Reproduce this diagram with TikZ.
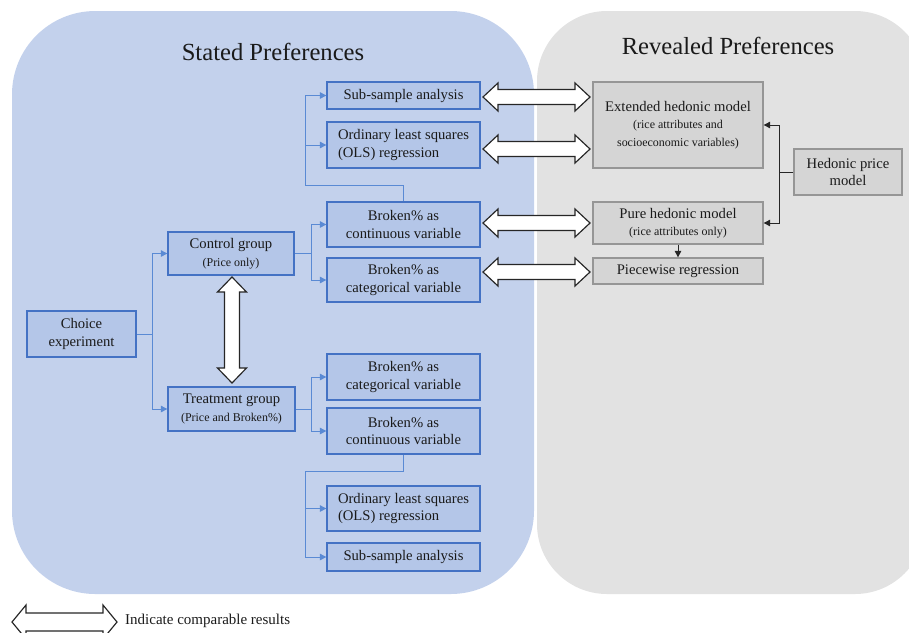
\documentclass[tikz,border=0pt]{standalone}
\usepackage{fontspec}
\setmainfont{Liberation Serif}
\usetikzlibrary{arrows.meta,calc}
\definecolor{panelblue}{HTML}{C3D1EC}
\definecolor{boxblue}{HTML}{B4C6E8}
\definecolor{edgeblue}{HTML}{4472C4}
\definecolor{lineblue}{HTML}{5A8AD4}
\definecolor{panelgray}{HTML}{E2E2E2}
\definecolor{boxgray}{HTML}{D5D5D5}
\definecolor{edgegray}{HTML}{969696}
\definecolor{txt}{HTML}{1A1A1A}
\tikzset{
 base/.style={inner sep=0pt, align=center, text=txt, font=\fontsize{12.5}{15}\selectfont},
 bbox/.style={base, draw=edgeblue, fill=boxblue, line width=1.1pt},
 gbox/.style={base, draw=edgegray, fill=boxgray, line width=1.1pt},
 bl/.style={draw=lineblue, line width=0.8pt},
 bla/.style={bl, -{Triangle[length=5.5pt,width=5.5pt]}},
 gl/.style={draw=black!85, line width=0.8pt},
 gla/.style={gl, -{Triangle[length=5.5pt,width=5.5pt]}},
 dbl/.style={draw=black!85, fill=white, line width=1pt, line join=miter},
 title/.style={text=txt, font=\fontsize{21}{24}\selectfont},
}
\newcommand\sm[1]{{\fontsize{10.2}{12}\selectfont #1}}
\newcommand\hdbl[6]{\draw[dbl] (#1,#3) -- (#1+#6,#3-#4) -- (#1+#6,#3-#5) -- (#2-#6,#3-#5) -- (#2-#6,#3-#4) -- (#2,#3) -- (#2-#6,#3+#4) -- (#2-#6,#3+#5) -- (#1+#6,#3+#5) -- (#1+#6,#3+#4) -- cycle;}
\newcommand\vdbl[6]{\draw[dbl] (#1,#2) -- (#1+#4,#2+#6) -- (#1+#5,#2+#6) -- (#1+#5,#3-#6) -- (#1+#4,#3-#6) -- (#1,#3) -- (#1-#4,#3-#6) -- (#1-#5,#3-#6) -- (#1-#5,#2+#6) -- (#1-#4,#2+#6) -- cycle;}
\begin{document}
\begin{tikzpicture}[x=0.03cm,y=-0.03cm]
\useasboundingbox (0,0) rectangle (909,632);
\clip (0,0) rectangle (909,632);
\fill[panelgray, rounded corners=2.1cm] (537,11) rectangle (925,594);
\fill[panelblue, rounded corners=2.5cm] (12,11) rectangle (534,594);

\node[title] (tsp) at (273,52) {Stated Preferences};
\node[title] (trp) at (728,46) {Revealed Preferences};

% blue boxes
\node[bbox, minimum width=4.59cm, minimum height=0.81cm] (sub1) at (403.5,95.5) {Sub-sample analysis};
\node[bbox, minimum width=4.59cm, minimum height=1.38cm, align=left] (ols1) at (403.5,145) {Ordinary least squares\\(OLS) regression};
\node[bbox, minimum width=4.59cm, minimum height=1.35cm] (cont1) at (403.5,224.5) {Broken\% as\\continuous variable};
\node[bbox, minimum width=4.59cm, minimum height=1.32cm] (cat1) at (403.5,280) {Broken\% as\\categorical variable};
\node[bbox, minimum width=3.78cm, minimum height=1.29cm] (ctrl) at (231,253.5) {Control group\\\sm{(Price only)}};
\node[bbox, minimum width=3.27cm, minimum height=1.38cm] (choice) at (81.5,334) {Choice\\experiment};
\node[bbox, minimum width=3.81cm, minimum height=1.32cm] (treat) at (231.5,409) {Treatment group\\\sm{(Price and Broken\%)}};
\node[bbox, minimum width=4.59cm, minimum height=1.38cm] (cat2) at (403.5,377) {Broken\% as\\categorical variable};
\node[bbox, minimum width=4.59cm, minimum height=1.38cm] (cont2) at (403.5,431) {Broken\% as\\continuous variable};
\node[bbox, minimum width=4.59cm, minimum height=1.35cm, align=left] (ols2) at (403.5,508.5) {Ordinary least squares\\(OLS) regression};
\node[bbox, minimum width=4.59cm, minimum height=0.84cm] (sub2) at (403.5,557) {Sub-sample analysis};

% gray boxes
\node[gbox, minimum width=5.1cm, minimum height=2.58cm] (ext) at (678,125) {Extended hedonic model\\\sm{(rice attributes and}\\\sm{socioeconomic variables)}};
\node[gbox, minimum width=5.1cm, minimum height=1.26cm] (pure) at (678,223) {Pure hedonic model\\\sm{(rice attributes only)}};
\node[gbox, minimum width=5.1cm, minimum height=0.78cm] (piece) at (678,271) {Piecewise regression};
\node[gbox, minimum width=3.24cm, minimum height=1.38cm] (hed) at (848,172) {Hedonic price\\model};

% blue connectors
\coordinate (j1) at ($(choice.east)+(16,0)$);
\draw[bl] (choice.east) -- (j1);
\draw[bla] (j1) |- (ctrl.west);
\draw[bla] (j1) |- (treat.west);
\coordinate (j2) at ($(ctrl.east)+(17,0)$);
\draw[bl] (ctrl.east) -- (j2);
\draw[bla] (j2) |- (cont1.west);
\draw[bla] (j2) |- (cat1.west);
\coordinate (j3) at ($(treat.east)+(16,0)$);
\draw[bl] (treat.east) -- (j3);
\draw[bla] (j3) |- (cat2.west);
\draw[bla] (j3) |- (cont2.west);
\coordinate (j4) at (305,185);
\draw[bl] (cont1.north) |- (j4);
\draw[bla] (j4) |- (sub1.west);
\draw[bla] (j4) |- (ols1.west);
\coordinate (j5) at (305,471);
\draw[bl] (cont2.south) |- (j5);
\draw[bla] (j5) |- (ols2.west);
\draw[bla] (j5) |- (sub2.west);

% gray connectors
\coordinate (j6) at (779,172);
\draw[gl] (hed.west) -- (j6);
\draw[gla] (j6) |- (ext.east);
\draw[gla] (j6) |- (pure.east);
\draw[gla] (pure.south) -- (piece.north);

% comparison arrows
\hdbl{483}{590}{97}{14}{7.5}{15}
\hdbl{483}{590}{149}{14}{7.5}{15}
\hdbl{483}{590}{223}{14}{7.5}{15}
\hdbl{483}{590}{272}{14}{7.5}{15}
\vdbl{232}{277}{383}{14.5}{7.5}{15}

% legend
\hdbl{12}{117}{622}{17}{9}{14}
\node[anchor=west, inner sep=0pt, text=txt, font=\fontsize{12.8}{15}\selectfont] (leg) at (125,621) {Indicate comparable results};
\end{tikzpicture}
\end{document}
